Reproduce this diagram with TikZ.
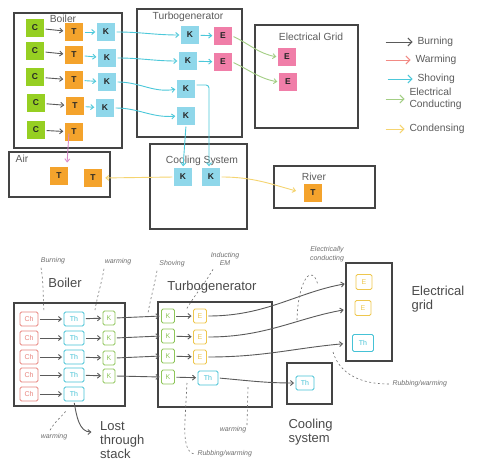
\documentclass[tikz,border=0pt]{standalone}
\usepackage{fontspec}
\setmainfont{Liberation Sans}
\usetikzlibrary{arrows.meta}
\definecolor{tgreen}{HTML}{96CF22}
\definecolor{torange}{HTML}{F4A32C}
\definecolor{tcyan}{HTML}{8FD7EA}
\definecolor{tpink}{HTML}{F07EA8}
\definecolor{agray}{HTML}{5A5A5A}
\definecolor{ared}{HTML}{F28A84}
\definecolor{acyan}{HTML}{4CC8DA}
\definecolor{agreen}{HTML}{A3CE84}
\definecolor{ayellow}{HTML}{F5D470}
\definecolor{apink}{HTML}{D98BC9}
\definecolor{boxgray}{HTML}{444444}
\definecolor{lbl}{HTML}{5C5C5C}
\definecolor{lbltwo}{HTML}{4A4A4A}
\definecolor{handc}{HTML}{707070}
\definecolor{hred}{HTML}{E8857F}
\definecolor{hcyan}{HTML}{45C2D6}
\definecolor{hgreen}{HTML}{8EC65A}
\definecolor{hyellow}{HTML}{EEC74F}
\begin{document}
\begin{tikzpicture}[x=1pt,y=-1pt,
  frame/.style={draw=boxgray,line width=1.3pt,inner sep=0pt},
  tile/.style={minimum width=18pt,minimum height=18pt,inner sep=0pt,font=\bfseries\fontsize{8.5}{9}\selectfont,text=black!85},
  ctile/.style={tile,fill=tgreen},
  ttile/.style={tile,fill=torange},
  ktile/.style={tile,fill=tcyan},
  etile/.style={tile,fill=tpink},
  ttl/.style={font=\fontsize{10.3}{12}\selectfont,text=lbl},
  big/.style={font=\fontsize{13}{14}\selectfont,text=lbltwo},
  hand/.style={font=\fontsize{7}{8.5}\selectfont\itshape,text=handc},
  htile/.style={draw=#1,text=#1,line width=0.9pt,rounded corners=1.5pt,minimum height=14pt,inner sep=0pt,font=\fontsize{7}{7}\selectfont},
  arr/.style={-{Straight Barb[length=3pt,width=5pt]},line width=0.9pt,shorten <=1.5pt,shorten >=1.5pt},
  legarr/.style={arr,-{Straight Barb[length=4pt,width=8pt]}},
  dsh/.style={dash pattern=on 2pt off 2.5pt,line width=0.6pt,draw=handc}
]
\useasboundingbox (0,0) rectangle (479,460);
\clip (0,0) rectangle (479,460);
\fill[white] (0,0) rectangle (479,460);

% ================= TOP DIAGRAM =================
\node[frame,minimum width=108pt,minimum height=135pt] (boilerT) at (68,80.5) {};
\node[frame,minimum width=105pt,minimum height=128pt] (turboT) at (189.5,73) {};
\node[frame,minimum width=103pt,minimum height=103pt] (gridT) at (306.5,76.5) {};
\node[frame,minimum width=101pt,minimum height=45pt] (airT) at (59.5,174.5) {};
\node[frame,minimum width=97pt,minimum height=85pt] (coolT) at (198.5,186.5) {};
\node[frame,minimum width=101pt,minimum height=42pt] (riverT) at (324.5,187) {};

\node[ttl] (lboilerT) at (63,19) {Boiler};
\node[ttl] (lturboT) at (188,17) {Turbogenerator};
\node[ttl] (lgridT) at (311,37) {Electrical Grid};
\node[ttl] (lairT) at (22,159) {Air};
\node[ttl] (lcoolT) at (202,161) {Cooling System};
\node[ttl] (lriverT) at (314,177) {River};

\node[ctile] (c1) at (35,28) {C};
\node[ctile] (c2) at (35,51) {C};
\node[ctile] (c3) at (35,77) {C};
\node[ctile] (c4) at (36,103) {C};
\node[ctile] (c5) at (36,130) {C};
\node[ttile] (t1) at (74,32) {T};
\node[ttile] (t2) at (74,55) {T};
\node[ttile] (t3) at (74,80) {T};
\node[ttile] (t4) at (75,106) {T};
\node[ttile] (t5) at (74,132) {T};
\node[ktile] (kb1) at (106,32) {K};
\node[ktile] (kb2) at (107,58) {K};
\node[ktile] (kb3) at (107,82) {K};
\node[ktile] (kb4) at (105,108) {K};

\node[ktile] (kt1) at (190,35) {K};
\node[ktile] (kt2) at (188,61) {K};
\node[ktile] (kt3) at (186,89) {K};
\node[ktile] (kt4) at (186,116) {K};
\node[etile] (et1) at (223,36) {E};
\node[etile] (et2) at (223,62) {E};

\node[etile] (eg1) at (287,57) {E};
\node[etile] (eg2) at (288,82) {E};

\node[ttile] (ta1) at (59,176) {T};
\node[ttile] (ta2) at (93,178) {T};
\node[ktile] (kc1) at (183,177) {K};
\node[ktile] (kc2) at (211,177) {K};
\node[ttile] (tr) at (313,193) {T};

% burning
\foreach \i in {1,...,5} \draw[arr,agray] (c\i) -- (t\i);
% shoving inside boiler
\foreach \i in {1,...,4} \draw[arr,acyan] (t\i) -- (kb\i);
% shoving boiler -> turbo
\draw[arr,acyan] (kb1.east) to[out=0,in=180] (kt1.west);
\draw[arr,acyan] (kb2.east) to[out=0,in=180] (kt2.west);
\draw[arr,acyan] (kb3.east) to[out=0,in=190] (kt3.west);
\draw[arr,acyan] (kb4.east) to[out=0,in=185] (kt4.west);
\draw[arr,acyan] (kt1) -- (et1);
\draw[arr,acyan] (kt2) -- (et2);
% electrical conducting
\draw[arr,agreen] (et1.east) to[out=-25,in=170] (eg1.west);
\draw[arr,agreen] (et2.east) to[out=-25,in=170] (eg2.west);
% shoving to cooling
\draw[arr,acyan] (kt4.south) -- (kc1.north);
\draw[arr,acyan,rounded corners=3pt] ([yshift=4pt]kt3.east) -| ([xshift=-2pt]kc2.north);
% condensing
\draw[arr,ayellow,shorten >=3pt] (kc1.west) -- (ta2.east);
\draw[arr,ayellow,shorten >=8pt] (kc2.east) to[out=0,in=165] (tr.west);
% warming to air
\coordinate (airin) at (67,164);
\draw[arr,apink] ([xshift=-5pt,yshift=9pt]t5.south) -- (airin);

% legend
\node[ttl,anchor=west] (lg1) at (414,42) {Burning};
\node[ttl,anchor=west] (lg2) at (412,60) {Warming};
\node[ttl,anchor=west] (lg3) at (414,79) {Shoving};
\node[ttl,anchor=west,align=left] (lg4) at (406,99) {Electrical\\Conducting};
\node[ttl,anchor=west] (lg5) at (406,129) {Condensing};
\coordinate (lg1s) at (384,42);
\coordinate (lg2s) at (384,60);
\coordinate (lg3s) at (386,79);
\coordinate (lg4s) at (384,99);
\coordinate (lg5s) at (384,129);
\draw[legarr,agray] (lg1s) -- (lg1.west);
\draw[legarr,ared] (lg2s) -- (lg2.west);
\draw[legarr,acyan] (lg3s) -- (lg3.west);
\draw[legarr,agreen] (lg4s) -- (lg4.west);
\draw[legarr,ayellow] (lg5s) -- (lg5.west);

% ================= BOTTOM DIAGRAM =================
\node[frame,minimum width=111pt,minimum height=103pt] (boilerB) at (69.5,354.5) {};
\node[frame,minimum width=114pt,minimum height=105pt] (turboB) at (215,354.5) {};
\node[frame,minimum width=46pt,minimum height=98pt] (gridB) at (369,312) {};
\node[frame,minimum width=45pt,minimum height=41pt] (coolB) at (309.5,383.5) {};

\node[big] (lboilerB) at (65,283) {Boiler};
\node[big] (lturboB) at (212,287) {Turbogenerator};
\node[big,anchor=west,align=left] (lgridB) at (408,299.5) {Electrical\\grid};
\node[big,anchor=west,align=left] (lcoolB) at (285,432) {Cooling\\system};
\node[big,anchor=north west,align=left,inner sep=1pt] (lost) at (99,420) {Lost\\through\\stack};

\foreach \i/\y in {1/319,2/338,3/357,4/375,5/394} {
  \node[htile=hred,minimum width=18pt] (ch\i) at (29,\y) {Ch};
  \node[htile=hcyan,minimum width=20pt] (thb\i) at (74,\y) {Th};
}
\foreach \i/\y in {1/318,2/338,3/358,4/376}
  \node[htile=hgreen,minimum width=12pt] (kbb\i) at (109,\y) {K};
\foreach \i/\y in {1/316,2/336,3/356,4/377}
  \node[htile=hgreen,minimum width=13pt] (ktb\i) at (168,\y) {K};
\foreach \i/\y in {1/316,2/337,3/357}
  \node[htile=hyellow,minimum width=13pt] (etb\i) at (200,\y) {E};
\node[htile=hcyan,minimum width=20pt] (tht) at (208,378) {Th};
\node[htile=hyellow,minimum width=16pt,minimum height=15pt] (egb1) at (364,282) {E};
\node[htile=hyellow,minimum width=16pt,minimum height=15pt] (egb2) at (363,308) {E};
\node[htile=hcyan,minimum width=21pt,minimum height=17pt] (thg) at (363,343) {Th};
\node[htile=hcyan,minimum width=18pt] (thc) at (305,383) {Th};

\foreach \i in {1,...,5} \draw[arr,agray] (ch\i) -- (thb\i);
\foreach \i in {1,...,4} \draw[arr,agray] (thb\i) -- (kbb\i);
\foreach \i in {1,...,4} \draw[arr,agray] (kbb\i.east) -- (ktb\i.west);
\foreach \i in {1,...,3} \draw[arr,agray] (ktb\i) -- (etb\i);
\draw[arr,agray] (ktb4) -- (tht);
\draw[arr,agray,shorten >=11pt] (etb1.east) to[out=0,in=190] (egb1.west);
\draw[arr,agray,shorten >=11pt] (etb2.east) to[out=0,in=190] (egb2.west);
\draw[arr,agray,shorten >=9pt] (etb3.east) to[out=0,in=185] (thg.west);
\draw[arr,agray] (tht.east) to[out=-5,in=180] (thc.west);
\coordinate (lostin) at (93,432);
\draw[arr,agray] (thb5.south) to[out=-80,in=180] (lostin);

% handwritten annotations
\node[hand] (hburn) at (53,261) {Burning};
\node[hand] (hwarm1) at (118,262) {warming};
\node[hand] (hshov) at (172,264) {Shoving};
\node[hand,align=center] (hind) at (225,259) {Inducting\\EM};
\node[hand,align=center] (helec) at (327,254) {Electrically\\conducting};
\node[hand] (hwarm2) at (54,437) {warming};
\node[hand] (hwarm3) at (233,430) {warming};
\node[hand,anchor=west] (hrub) at (389,384) {Rubbing/warming};
\node[hand,anchor=west] (hrub2) at (194,454) {Rubbing/warming};

\coordinate (d1) at (44,311);
\coordinate (d2) at (95,310);
\coordinate (d3) at (148,313);
\coordinate (d4) at (186,310);
\coordinate (d5a) at (297,320);
\coordinate (d5b) at (318,285);
\coordinate (d6) at (333,352);
\coordinate (d7) at (66,411);
\coordinate (d8a) at (248,387);
\coordinate (d8b) at (247,425);
\coordinate (d9) at (187,383);

\draw[dsh] ([xshift=-12pt]hburn.south) to[out=-80,in=95] (d1);
\draw[dsh] ([xshift=-14pt]hwarm1.south) to[out=-100,in=80] (d2);
\draw[dsh] ([xshift=-15pt]hshov.south) to[out=-100,in=80] (d3);
\draw[dsh] ([xshift=-12pt]hind.south) to[out=-120,in=60] (d4);
\draw[dsh] (d5a) .. controls (298,280) and (312,262) .. (d5b);
\draw[dsh] (d6) .. controls (340,375) and (362,384) .. (hrub.west);
\draw[dsh] ([xshift=-4pt]hwarm2.north) to[out=60,in=-130] (d7);
\draw[dsh] (d8b) -- (d8a);
\draw[dsh] (d9) -- (185,420) .. controls (184,440) and (186,452) .. (hrub2.west);
\end{tikzpicture}
\end{document}
